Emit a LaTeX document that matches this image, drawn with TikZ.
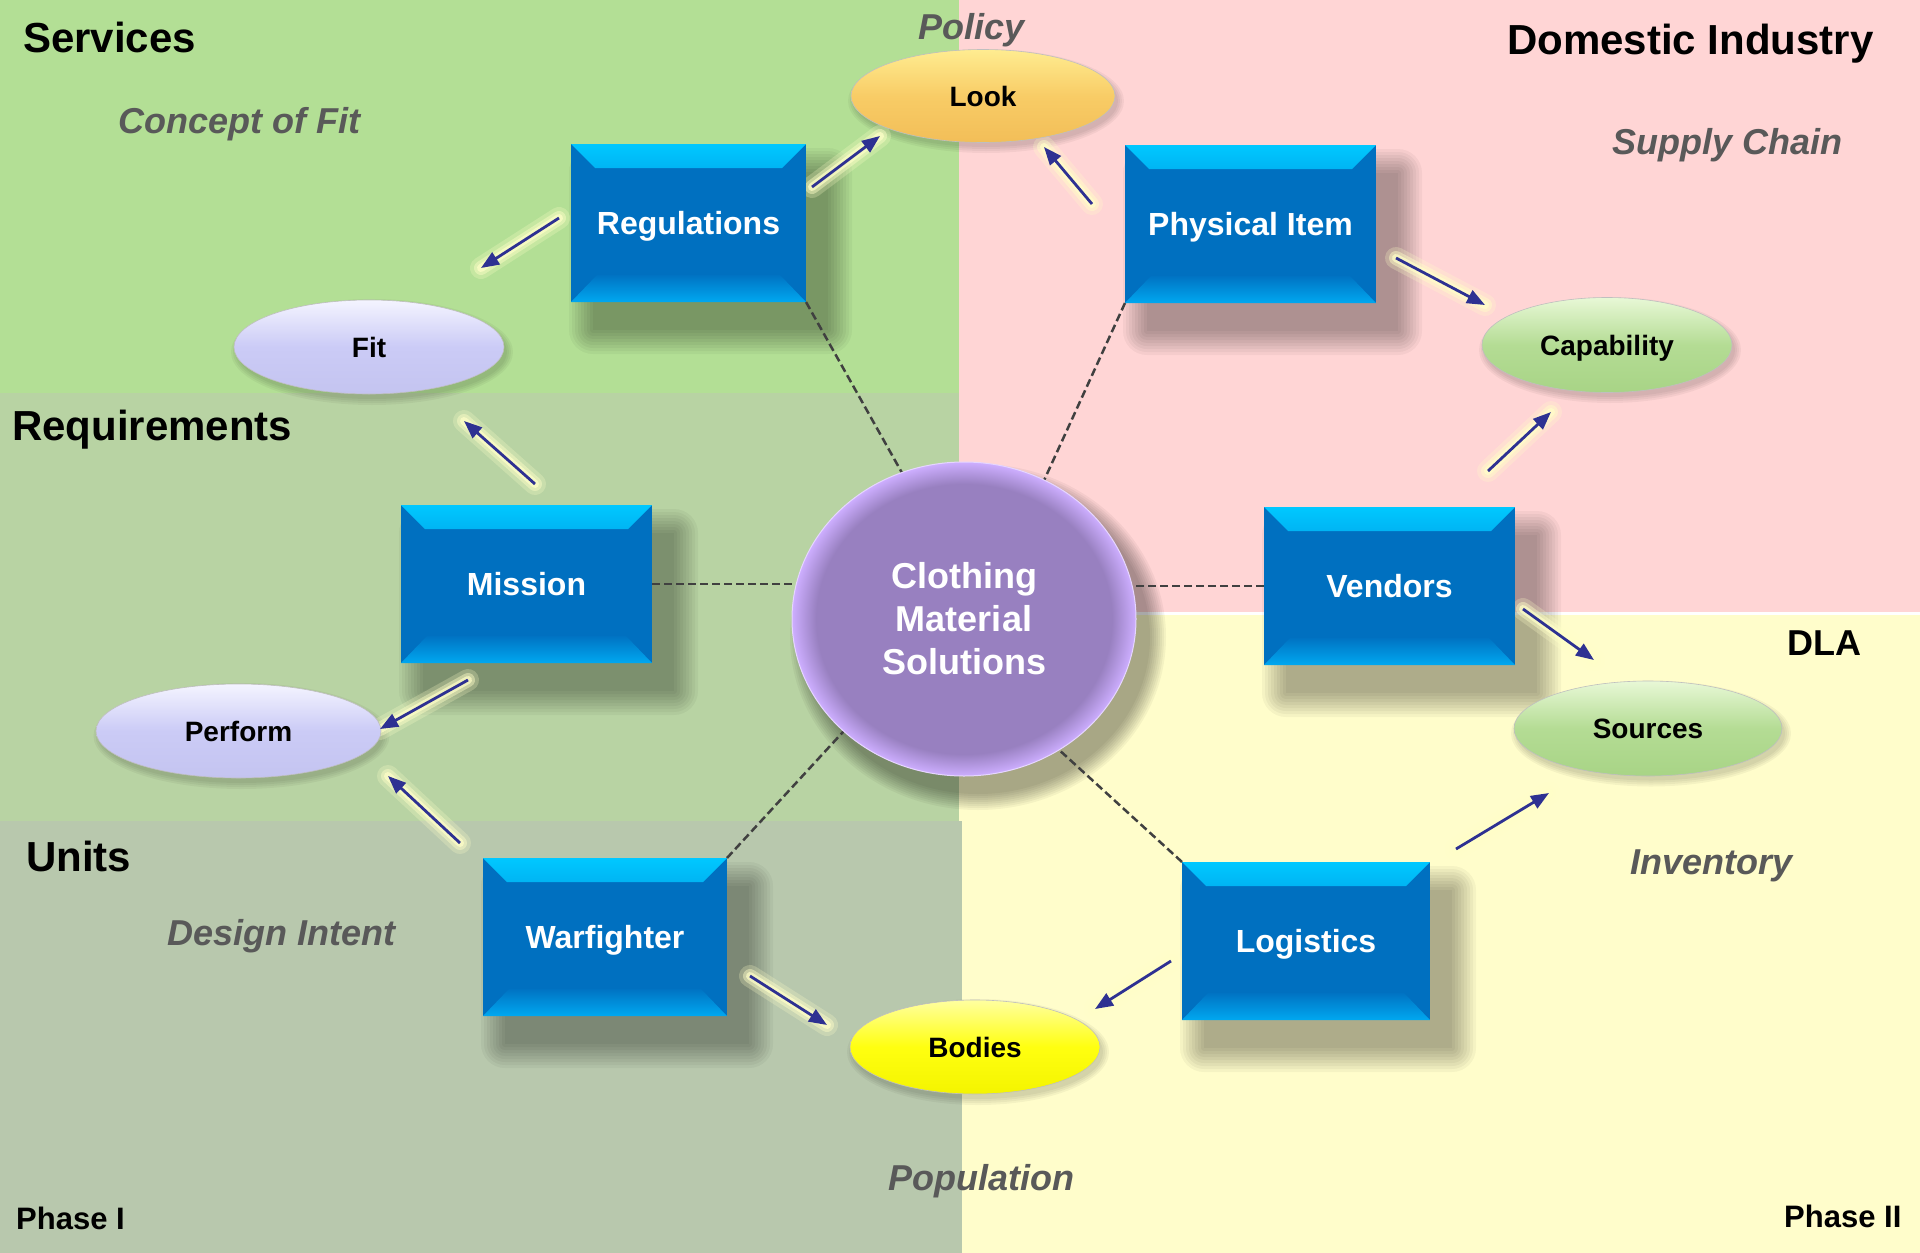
\documentclass[tikz,border=0pt]{standalone}
\usepackage{fontspec}
\setmainfont{Liberation Sans}
\usetikzlibrary{shapes.geometric,arrows.meta,calc}
\definecolor{svcgreen}{HTML}{B3DF95}
\definecolor{reqgreen}{HTML}{B8D3A3}
\definecolor{unitgray}{HTML}{B8C8AD}
\definecolor{indpink}{HTML}{FFD5D5}
\definecolor{dlayellow}{HTML}{FFFDCB}
\definecolor{boxblue}{HTML}{0070C0}
\definecolor{bandblue}{HTML}{0073C3}
\definecolor{bandmid}{HTML}{0088D8}
\definecolor{bevtop}{HTML}{00C8FF}
\definecolor{bevbot}{HTML}{00A8F0}
\definecolor{labelgray}{HTML}{595959}
\definecolor{arrownavy}{HTML}{2E3192}
\definecolor{glowcol}{HTML}{FFFFC8}
\definecolor{dashgray}{HTML}{404040}
\definecolor{lavtop}{HTML}{F4F4FF}
\definecolor{lavmid}{HTML}{CBCBF6}
\definecolor{lavbot}{HTML}{C4C4F0}
\definecolor{lktop}{HTML}{FFEC90}
\definecolor{lkmid}{HTML}{F8CC66}
\definecolor{lkbot}{HTML}{F2BE58}
\definecolor{grtop}{HTML}{E8F8D6}
\definecolor{grmid}{HTML}{B4DC94}
\definecolor{grbot}{HTML}{A8D486}
\definecolor{yltop}{HTML}{FFFFA0}
\definecolor{ylmid}{HTML}{FFFF10}
\definecolor{ylbot}{HTML}{F4F400}
\definecolor{purcore}{HTML}{9880C0}
\definecolor{purrim}{HTML}{CDAEFF}
\pgfdeclareradialshading{orbshade}{\pgfpoint{0bp}{0bp}}{color(0bp)=(purcore); color(21.5bp)=(purcore); color(25bp)=(purrim); color(50bp)=(purrim)}
\pgfdeclarelayer{shadow}
\pgfdeclarelayer{lines}
\pgfsetlayers{shadow,lines,main}
\newcommand\glowarrow[2]{%
  \begin{pgfonlayer}{lines}
    \draw[glowcol, line cap=round, line width=22pt, opacity=0.25] (#1) -- (#2);
    \draw[glowcol, line cap=round, line width=14pt, opacity=0.45] (#1) -- (#2);
    \draw[glowcol, line cap=round, line width=8pt, opacity=0.7] (#1) -- (#2);
  \end{pgfonlayer}
  \draw[flowarrow] (#1) -- (#2);
}
\newcommand\rectshadow[1]{%
  \foreach \g in {0,3,...,24}{%
    \fill[black, opacity=0.04, rounded corners=\g pt]
      ([shift={({22pt-\g*1pt},{-28pt+\g*1pt})}]#1.north west) rectangle
      ([shift={({22pt+\g*1pt},{-28pt-\g*1pt})}]#1.south east);
  }}
% node, x radius, y radius, dx, dy (canvas, pt), last spread step
\newcommand\ellshadow[6]{%
  \foreach \g in {0,2,...,#6}{%
    \fill[black, opacity=0.045] ([shift={(#4pt,#5pt)}]#1.center)
      ellipse [x radius={(#2+\g)*1pt}, y radius={(#3+\g)*1pt}];
  }}
\tikzset{
  box/.style={rectangle, inner sep=0pt, outer sep=0pt, minimum height=158pt, fill=boxblue, text=white,
    text depth=0pt, font=\bfseries\fontsize{32}{38}\selectfont,
    path picture={
      \shade[top color=bevtop, bottom color=bandblue, middle color=bandmid]
        (path picture bounding box.north west) -- (path picture bounding box.north east)
        -- ([shift={(-24pt,-24pt)}]path picture bounding box.north east)
        -- ([shift={(24pt,-24pt)}]path picture bounding box.north west) -- cycle;
      \shade[top color=bandblue, bottom color=bevbot]
        ([shift={(26pt,27pt)}]path picture bounding box.south west)
        -- ([shift={(-26pt,27pt)}]path picture bounding box.south east)
        -- (path picture bounding box.south east)
        -- (path picture bounding box.south west) -- cycle;
    }},
  oval/.style={ellipse, inner sep=0pt, outer sep=0pt, draw=black!25, line width=0.6pt,
    text depth=0pt, font=\bfseries\fontsize{28}{32}\selectfont, text=black},
  lavfill/.style={top color=lavtop, bottom color=lavbot, middle color=lavmid},
  lookfill/.style={top color=lktop, bottom color=lkbot, middle color=lkmid},
  greenfill/.style={top color=grtop, bottom color=grbot, middle color=grmid},
  yellowfill/.style={top color=yltop, bottom color=ylbot, middle color=ylmid},
  orb/.style={ellipse, inner sep=0pt, outer sep=0pt, minimum width=344pt, minimum height=314pt,
    shade, shading=orbshade, draw=purrim!50!white, line width=1pt, text=white, align=center,
    font=\bfseries\fontsize{36}{43}\selectfont},
  zone/.style={font=\bfseries\fontsize{42}{48}\selectfont, text=black, inner sep=0pt, anchor=base west},
  zonesmall/.style={font=\bfseries\fontsize{36}{42}\selectfont, text=black, inner sep=0pt, anchor=base west},
  phase/.style={font=\bfseries\fontsize{31}{36}\selectfont, text=black, inner sep=0pt, anchor=base west},
  topic/.style={font=\bfseries\itshape\fontsize{36}{42}\selectfont, text=labelgray, inner sep=0pt, anchor=base west},
  linkdash/.style={draw=dashgray, line width=2.5pt, dash pattern=on 8pt off 4pt},
  flowarrow/.style={draw=arrownavy, line width=2.8pt, -{Triangle[length=18pt,width=14pt]}}
}
\begin{document}
\begin{tikzpicture}[x=1pt,y=-1pt]
\useasboundingbox (0,0) rectangle (1920,1253);
\begin{pgfonlayer}{shadow}
  \fill[svcgreen] (0,0) rectangle (959,393);
  \fill[reqgreen] (0,393) rectangle (959,821);
  \fill[indpink] (959,0) rectangle (1920,613);
  \fill[dlayellow] (959,613) rectangle (1920,1253);
  \fill[unitgray] (0,821) rectangle (962,1253);
  \draw[white, line width=3pt] (959,613) -- (1920,613);
\end{pgfonlayer}

% zone titles
\node[zone] (tsvc) at (23,52) {Services};
\node[zone] (tind) at (1507,54) {Domestic Industry};
\node[zone] (treq) at (12,440) {Requirements};
\node[zone] (tunit) at (26,871) {Units};
\node[zonesmall] (tdla) at (1787,655) {DLA};
\node[phase] (tph1) at (16,1229) {Phase I};
\node[phase] (tph2) at (1784,1227) {Phase II};

% topics
\node[topic] (tpol) at (918,39) {Policy};
\node[topic] (tcof) at (118,133) {Concept of Fit};
\node[topic] (tsup) at (1612,154) {Supply Chain};
\node[topic] (tdes) at (167,945) {Design Intent};
\node[topic] (tinv) at (1630,874) {Inventory};
\node[topic] (tpop) at (888,1190) {Population};

% boxes
\node[box, minimum width=235pt] (reg) at (688.5,223) {Regulations};
\node[box, minimum width=251pt] (phys) at (1250.5,224) {Physical Item};
\node[box, minimum width=251pt] (mission) at (526.5,584) {Mission};
\node[box, minimum width=251pt] (vend) at (1389.5,586) {Vendors};
\node[box, minimum width=244pt] (warf) at (605,937) {Warfighter};
\node[box, minimum width=248pt] (logi) at (1306,941) {Logistics};

% ovals
\node[oval, lookfill, minimum width=264pt, minimum height=93pt] (look) at (983,96) {Look};
\node[oval, lavfill, minimum width=270pt, minimum height=94pt] (fit) at (369,347) {Fit};
\node[oval, greenfill, minimum width=250pt, minimum height=95pt] (cap) at (1607,345) {Capability};
\node[oval, lavfill, minimum width=285pt, minimum height=94pt] (perf) at (238.5,731) {Perform};
\node[oval, greenfill, minimum width=268pt, minimum height=95pt] (src) at (1648,728.5) {Sources};
\node[oval, yellowfill, minimum width=250pt, minimum height=94pt] (bod) at (975,1047) {Bodies};

% center
\node[orb] (circ) at (964,619) {Clothing\\Material\\Solutions};

% soft shadows
\begin{pgfonlayer}{shadow}
  \rectshadow{reg}
  \rectshadow{phys}
  \rectshadow{mission}
  \rectshadow{vend}
  \rectshadow{warf}
  \rectshadow{logi}
  \ellshadow{look}{132}{46}{3}{-5}{6}
  \ellshadow{fit}{135}{47}{3}{-5}{6}
  \ellshadow{cap}{125}{47}{3}{-5}{6}
  \ellshadow{perf}{142}{47}{3}{-5}{6}
  \ellshadow{src}{134}{47}{3}{-5}{6}
  \ellshadow{bod}{125}{47}{3}{-5}{6}
  \ellshadow{circ}{172}{157}{14}{-18}{16}
\end{pgfonlayer}

% dashed links
\begin{pgfonlayer}{lines}
  \draw[linkdash] (reg.south east) -- (circ.113);
  \draw[linkdash] (phys.south west) -- (circ.60);
  \draw[linkdash] (mission.east) -- (circ.west |- mission.east);
  \draw[linkdash] (vend.west) -- (circ.east |- vend.west);
  \draw[linkdash] (warf.north east) -- (circ.223);
  \draw[linkdash] (logi.north west) -- (circ.-54);
\end{pgfonlayer}

% arrow end points
\coordinate (a1s) at (812,187);  \coordinate (a1e) at (880,136);
\coordinate (a2s) at (559,218);  \coordinate (a2e) at (481,268);
\coordinate (a3s) at (1092,204); \coordinate (a3e) at (1044,147);
\coordinate (a4s) at (1396,258); \coordinate (a4e) at (1485,305);
\coordinate (a5s) at (1488,471); \coordinate (a5e) at (1551,412);
\coordinate (a6s) at (1523,609); \coordinate (a6e) at (1594,660);
\coordinate (a7s) at (1456,849); \coordinate (a7e) at (1549,793);
\coordinate (a8s) at (1171,961); \coordinate (a8e) at (1095,1009);
\coordinate (a9s) at (750,976);  \coordinate (a9e) at (827,1025);
\coordinate (a10s) at (460,843); \coordinate (a10e) at (388,776);
\coordinate (a11s) at (468,680); \coordinate (a11e) at (380,729);
\coordinate (a12s) at (535,484); \coordinate (a12e) at (464,421);

\glowarrow{a1s}{a1e}
\glowarrow{a2s}{a2e}
\glowarrow{a3s}{a3e}
\glowarrow{a4s}{a4e}
\glowarrow{a5s}{a5e}
\glowarrow{a6s}{a6e}
\glowarrow{a7s}{a7e}
\glowarrow{a8s}{a8e}
\glowarrow{a9s}{a9e}
\glowarrow{a10s}{a10e}
\glowarrow{a11s}{a11e}
\glowarrow{a12s}{a12e}
\end{tikzpicture}
\end{document}
